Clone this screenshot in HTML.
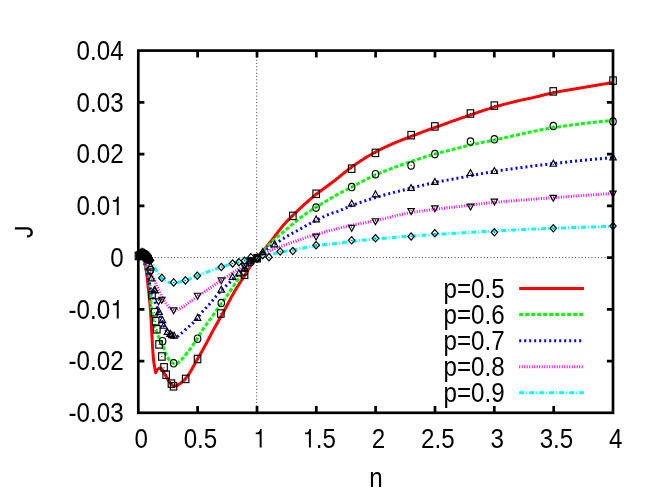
<!DOCTYPE html>
<html><head><meta charset="utf-8"><title>plot</title><style>html,body{margin:0;padding:0;background:#fff}svg{display:block;will-change:transform}text{font-family:"Liberation Sans",sans-serif;font-size:27.0px;fill:#000}</style></head><body>
<svg width="654" height="491" viewBox="0 0 654 491">
<rect width="654" height="491" fill="#fff"/>
<g stroke="#222" stroke-width="0.9" stroke-dasharray="1 2.26" fill="none">
<path d="M138.3 257.6 H613.0"/>
<path d="M256.7 412.8 V50.6"/>
</g>
<path d="M138.5 257.3 L139.7 257.3 L140.9 257.3 L141.8 257.4 L142.5 257.4 L143.1 257.7 L143.6 258.5 L144.0 259.6 L144.3 260.8 L144.6 261.9 L144.8 262.8 L145.0 263.8 L145.2 264.7 L145.4 265.7 L145.6 266.7 L145.8 267.7 L146.0 268.6 L146.1 269.6 L146.3 270.6 L146.4 271.6 L146.6 272.6 L146.7 273.6 L146.8 274.6 L146.9 275.6 L147.1 276.6 L147.2 277.6 L147.3 278.6 L147.4 279.6 L147.5 280.6 L147.6 281.6 L147.7 282.6 L147.8 283.6 L147.9 284.6 L148.0 285.6 L148.1 286.6 L148.2 287.6 L148.3 288.6 L148.5 289.6 L148.6 290.6 L148.7 291.6 L148.8 292.6 L148.9 293.6 L149.0 294.6 L149.1 295.6 L149.2 296.6 L149.3 297.6 L149.4 298.6 L149.5 299.6 L149.6 300.6 L149.7 301.6 L149.8 302.5 L149.9 303.5 L150.0 304.5 L150.1 305.5 L150.1 306.5 L150.2 307.5 L150.3 308.5 L150.4 309.5 L150.5 310.5 L150.5 311.5 L150.6 312.5 L150.7 313.5 L150.7 314.5 L150.8 315.5 L150.9 316.5 L150.9 317.5 L151.0 318.5 L151.1 319.5 L151.1 320.5 L151.2 321.5 L151.2 322.5 L151.3 323.5 L151.3 324.5 L151.4 325.5 L151.4 326.5 L151.5 327.5 L151.5 328.5 L151.6 329.5 L151.7 330.5 L151.7 331.5 L151.8 332.5 L151.8 333.5 L151.9 334.5 L151.9 335.5 L152.0 336.5 L152.1 337.5 L152.1 338.5 L152.2 339.5 L152.2 340.5 L152.3 341.5 L152.3 342.5 L152.4 343.5 L152.4 344.5 L152.5 345.5 L152.5 346.5 L152.6 347.5 L152.7 348.5 L152.7 349.5 L152.8 350.5 L152.9 351.5 L152.9 352.5 L153.0 353.5 L153.1 354.4 L153.1 355.4 L153.2 356.4 L153.3 357.4 L153.4 358.4 L153.5 359.4 L153.6 360.4 L153.8 361.4 L153.9 362.4 L154.0 363.4 L154.2 364.4 L154.3 365.4 L154.5 366.3 L154.7 367.3 L154.8 368.3 L155.0 369.3 L155.2 370.3 L155.4 371.3 L155.5 372.3 L155.6 372.6 L156.4 371.3 L157.1 370.2 L157.8 369.3 L158.5 368.7 L159.2 368.3 L159.9 368.0 L160.6 368.0 L161.2 368.4 L161.9 369.1 L162.5 370.0 L163.1 371.0 L163.7 372.0 L164.2 373.0 L164.8 373.9 L165.3 374.8 L165.8 375.6 L166.3 376.5 L166.8 377.4 L167.2 378.3 L167.7 379.2 L168.2 380.0 L168.7 380.9 L169.3 381.7 L169.9 382.5 L170.5 383.3 L171.2 384.1 L171.9 384.7 L172.7 385.4 L173.6 386.0 L174.5 386.2 L175.5 386.1 L176.5 385.8 L177.4 385.4 L178.3 384.9 L179.1 384.3 L179.9 383.7 L180.7 383.1 L181.5 382.5 L182.2 381.8 L183.0 381.1 L183.7 380.5 L184.5 379.8 L185.1 379.0 L185.8 378.3 L186.4 377.5 L187.0 376.8 L187.6 376.0 L188.1 375.2 L188.7 374.4 L189.2 373.5 L189.8 372.7 L190.3 371.8 L190.8 371.0 L191.3 370.1 L191.8 369.2 L192.3 368.4 L192.8 367.5 L193.3 366.6 L193.8 365.7 L194.3 364.8 L194.8 363.9 L195.2 363.0 L195.7 362.1 L196.2 361.2 L196.7 360.4 L197.2 359.5 L197.7 358.6 L198.2 357.8 L198.7 356.9 L199.2 356.0 L199.7 355.2 L200.2 354.3 L200.7 353.4 L201.2 352.6 L201.7 351.7 L202.2 350.8 L202.7 350.0 L203.2 349.1 L203.7 348.2 L204.2 347.3 L204.6 346.5 L205.1 345.6 L205.6 344.7 L206.1 343.8 L206.6 343.0 L207.0 342.1 L207.5 341.2 L207.9 340.3 L208.4 339.4 L208.9 338.5 L209.3 337.6 L209.8 336.7 L210.3 335.9 L210.7 335.0 L211.2 334.1 L211.6 333.2 L212.1 332.3 L212.6 331.4 L213.0 330.5 L213.5 329.7 L214.0 328.8 L214.5 327.9 L215.0 327.0 L215.5 326.2 L216.0 325.3 L216.5 324.4 L217.0 323.6 L217.5 322.7 L217.9 321.8 L218.4 321.0 L218.9 320.1 L219.4 319.2 L219.9 318.4 L220.4 317.5 L220.9 316.6 L221.4 315.8 L221.9 314.9 L222.4 314.0 L222.9 313.1 L223.4 312.3 L223.8 311.4 L224.3 310.5 L224.8 309.6 L225.3 308.7 L225.7 307.8 L226.2 307.0 L226.7 306.1 L227.1 305.2 L227.6 304.3 L228.1 303.4 L228.5 302.5 L229.0 301.6 L229.4 300.8 L229.9 299.9 L230.4 299.0 L230.9 298.1 L231.3 297.2 L231.8 296.3 L232.3 295.5 L232.8 294.6 L233.3 293.7 L233.7 292.9 L234.2 292.0 L234.7 291.1 L235.2 290.3 L235.8 289.4 L236.3 288.5 L236.8 287.7 L237.3 286.9 L237.9 286.0 L238.4 285.2 L238.9 284.3 L239.5 283.5 L240.0 282.6 L240.6 281.8 L241.1 281.0 L241.7 280.1 L242.2 279.3 L242.8 278.5 L243.3 277.6 L243.9 276.8 L244.4 275.9 L244.9 275.1 L245.4 274.2 L246.0 273.4 L246.5 272.5 L247.0 271.6 L247.5 270.8 L248.0 269.9 L248.5 269.1 L249.1 268.2 L249.6 267.4 L250.2 266.6 L250.7 265.7 L251.3 264.9 L251.9 264.1 L252.5 263.3 L253.1 262.5 L253.7 261.7 L254.3 260.9 L254.9 260.1 L255.5 259.4 L256.2 258.6 L256.8 257.8 L257.4 257.0 L258.1 256.3 L258.7 255.5 L259.4 254.7 L260.0 254.0 L260.7 253.2 L261.4 252.5 L262.1 251.8 L262.7 251.0 L263.4 250.3 L264.1 249.5 L264.7 248.8 L265.4 248.0 L266.1 247.3 L266.7 246.5 L267.4 245.8 L268.0 245.0 L268.6 244.2 L269.2 243.4 L269.8 242.6 L270.5 241.9 L271.1 241.1 L271.7 240.3 L272.3 239.5 L272.9 238.7 L273.5 237.9 L274.1 237.1 L274.7 236.3 L275.3 235.5 L275.9 234.7 L276.5 233.9 L277.1 233.1 L277.7 232.3 L278.3 231.5 L278.9 230.7 L279.6 229.9 L280.2 229.1 L280.8 228.4 L281.4 227.6 L282.1 226.8 L282.7 226.0 L283.4 225.3 L284.0 224.5 L284.7 223.8 L285.4 223.1 L286.0 222.3 L286.7 221.6 L287.4 220.9 L288.1 220.1 L288.8 219.4 L289.5 218.7 L290.2 218.0 L290.9 217.3 L291.6 216.6 L292.3 215.9 L293.0 215.2 L293.7 214.5 L294.5 213.8 L295.2 213.1 L295.9 212.4 L296.6 211.7 L297.3 211.0 L298.1 210.3 L298.8 209.6 L299.5 208.9 L300.3 208.2 L301.0 207.6 L301.7 206.9 L302.5 206.2 L303.2 205.5 L303.9 204.9 L304.7 204.2 L305.4 203.5 L306.2 202.9 L306.9 202.2 L307.7 201.5 L308.4 200.9 L309.2 200.2 L309.9 199.5 L310.7 198.9 L311.4 198.2 L312.2 197.6 L313.0 196.9 L313.7 196.3 L314.5 195.7 L315.3 195.0 L316.0 194.4 L316.8 193.8 L317.6 193.2 L318.4 192.6 L319.2 192.0 L320.0 191.4 L320.8 190.8 L321.6 190.2 L322.4 189.6 L323.2 189.0 L324.0 188.4 L324.9 187.8 L325.7 187.2 L326.5 186.6 L327.3 186.1 L328.1 185.5 L328.9 184.9 L329.7 184.3 L330.5 183.7 L331.3 183.1 L332.1 182.5 L332.9 181.9 L333.7 181.3 L334.5 180.7 L335.3 180.1 L336.1 179.4 L336.9 178.8 L337.6 178.2 L338.4 177.6 L339.2 176.9 L340.0 176.3 L340.8 175.7 L341.5 175.0 L342.3 174.4 L343.1 173.8 L343.8 173.1 L344.6 172.5 L345.4 171.8 L346.2 171.2 L346.9 170.6 L347.7 170.0 L348.5 169.4 L349.3 168.7 L350.1 168.1 L350.9 167.5 L351.7 167.0 L352.5 166.4 L353.3 165.8 L354.2 165.2 L355.0 164.7 L355.8 164.1 L356.6 163.5 L357.5 163.0 L358.3 162.4 L359.1 161.9 L360.0 161.3 L360.8 160.8 L361.6 160.2 L362.5 159.7 L363.3 159.2 L364.2 158.6 L365.0 158.1 L365.9 157.6 L366.7 157.0 L367.6 156.5 L368.5 156.0 L369.3 155.5 L370.2 155.0 L371.1 154.5 L371.9 154.0 L372.8 153.5 L373.7 153.0 L374.5 152.5 L375.4 152.1 L376.3 151.6 L377.2 151.1 L378.0 150.6 L378.9 150.2 L379.8 149.7 L380.7 149.3 L381.6 148.8 L382.5 148.4 L383.4 148.0 L384.3 147.5 L385.2 147.1 L386.1 146.7 L387.0 146.3 L388.0 145.8 L388.9 145.4 L389.8 145.0 L390.7 144.6 L391.6 144.2 L392.5 143.8 L393.4 143.4 L394.4 143.0 L395.3 142.6 L396.2 142.2 L397.1 141.9 L398.1 141.5 L399.0 141.1 L399.9 140.8 L400.8 140.4 L401.8 140.0 L402.7 139.7 L403.6 139.3 L404.6 139.0 L405.5 138.6 L406.4 138.2 L407.4 137.9 L408.3 137.5 L409.3 137.2 L410.2 136.8 L411.1 136.4 L412.1 136.1 L413.0 135.7 L413.9 135.4 L414.8 135.0 L415.8 134.6 L416.7 134.3 L417.6 133.9 L418.6 133.5 L419.5 133.2 L420.4 132.8 L421.4 132.4 L422.3 132.1 L423.2 131.7 L424.2 131.4 L425.1 131.0 L426.0 130.7 L427.0 130.3 L427.9 130.0 L428.8 129.6 L429.8 129.3 L430.7 128.9 L431.7 128.6 L432.6 128.3 L433.6 128.0 L434.5 127.7 L435.5 127.3 L436.4 127.0 L437.4 126.7 L438.3 126.3 L439.2 126.0 L440.2 125.7 L441.1 125.3 L442.1 125.0 L443.0 124.6 L443.9 124.3 L444.9 124.0 L445.8 123.6 L446.8 123.3 L447.7 122.9 L448.6 122.6 L449.6 122.2 L450.5 121.9 L451.5 121.5 L452.4 121.2 L453.3 120.9 L454.3 120.5 L455.2 120.2 L456.2 119.9 L457.1 119.5 L458.0 119.2 L459.0 118.9 L459.9 118.5 L460.9 118.2 L461.8 117.9 L462.8 117.5 L463.7 117.2 L464.7 116.9 L465.6 116.6 L466.5 116.2 L467.5 115.9 L468.4 115.6 L469.4 115.3 L470.3 115.0 L471.3 114.6 L472.2 114.3 L473.2 114.0 L474.1 113.7 L475.1 113.3 L476.0 113.0 L477.0 112.7 L477.9 112.4 L478.9 112.0 L479.8 111.7 L480.7 111.4 L481.7 111.1 L482.6 110.7 L483.6 110.4 L484.5 110.1 L485.5 109.8 L486.4 109.5 L487.4 109.2 L488.3 108.9 L489.3 108.6 L490.2 108.3 L491.2 108.0 L492.2 107.7 L493.1 107.4 L494.1 107.1 L495.0 106.8 L496.0 106.5 L496.9 106.3 L497.9 106.0 L498.9 105.7 L499.8 105.5 L500.8 105.2 L501.8 104.9 L502.7 104.7 L503.7 104.4 L504.7 104.2 L505.6 103.9 L506.6 103.7 L507.6 103.4 L508.5 103.2 L509.5 102.9 L510.5 102.7 L511.5 102.4 L512.4 102.2 L513.4 102.0 L514.4 101.7 L515.3 101.5 L516.3 101.3 L517.3 101.0 L518.3 100.8 L519.2 100.6 L520.2 100.4 L521.2 100.1 L522.2 99.9 L523.1 99.7 L524.1 99.5 L525.1 99.3 L526.1 99.1 L527.1 98.9 L528.0 98.7 L529.0 98.5 L530.0 98.3 L531.0 98.1 L531.9 97.9 L532.9 97.6 L533.9 97.4 L534.9 97.2 L535.8 96.9 L536.8 96.7 L537.8 96.5 L538.8 96.2 L539.7 96.0 L540.7 95.7 L541.7 95.5 L542.6 95.2 L543.6 95.0 L544.6 94.8 L545.6 94.5 L546.5 94.3 L547.5 94.1 L548.5 93.8 L549.4 93.6 L550.4 93.4 L551.4 93.2 L552.4 93.0 L553.3 92.8 L554.3 92.6 L555.3 92.4 L556.3 92.2 L557.3 92.0 L558.2 91.8 L559.2 91.6 L560.2 91.4 L561.2 91.2 L562.2 91.1 L563.2 90.9 L564.2 90.7 L565.1 90.5 L566.1 90.4 L567.1 90.2 L568.1 90.0 L569.1 89.9 L570.1 89.7 L571.1 89.5 L572.0 89.4 L573.0 89.2 L574.0 89.0 L575.0 88.9 L576.0 88.7 L577.0 88.5 L578.0 88.4 L578.9 88.2 L579.9 88.1 L580.9 87.9 L581.9 87.7 L582.9 87.6 L583.9 87.4 L584.9 87.2 L585.9 87.1 L586.8 86.9 L587.8 86.7 L588.8 86.5 L589.8 86.4 L590.8 86.2 L591.8 86.0 L592.8 85.9 L593.7 85.7 L594.7 85.5 L595.7 85.4 L596.7 85.2 L597.7 85.0 L598.7 84.9 L599.7 84.7 L600.6 84.6 L601.6 84.4 L602.6 84.2 L603.6 84.1 L604.6 83.9 L605.6 83.7 L606.6 83.6 L607.5 83.4 L608.5 83.2 L609.5 83.1 L610.5 82.9 L611.5 82.7 L612.5 82.6 L613.0 82.5" fill="none" stroke="#ff0000" stroke-width="3.0" stroke-linejoin="round"/>
<path d="M138.5 257.3 L139.7 257.3 L140.7 257.3 L141.6 257.4 L142.3 257.5 L143.0 258.0 L143.6 258.9 L144.1 260.0 L144.5 261.1 L144.8 262.1 L145.1 263.0 L145.4 263.9 L145.7 264.8 L146.0 265.8 L146.3 266.7 L146.5 267.7 L146.8 268.6 L147.0 269.6 L147.3 270.6 L147.5 271.5 L147.7 272.5 L147.9 273.5 L148.1 274.5 L148.3 275.5 L148.5 276.5 L148.7 277.5 L148.9 278.5 L149.0 279.5 L149.2 280.5 L149.3 281.5 L149.5 282.5 L149.6 283.6 L149.7 284.6 L149.9 285.6 L150.0 286.6 L150.1 287.6 L150.2 288.6 L150.3 289.6 L150.4 290.6 L150.4 291.6 L150.5 292.6 L150.6 293.6 L150.6 294.6 L150.7 295.6 L150.7 296.6 L150.8 297.6 L150.8 298.6 L150.8 299.6 L150.9 300.6 L150.9 301.6 L151.0 302.6 L151.0 303.6 L151.1 304.6 L151.2 305.6 L151.2 306.6 L151.3 307.6 L151.4 308.5 L151.5 309.5 L151.7 310.5 L151.8 311.5 L151.9 312.5 L152.1 313.5 L152.2 314.5 L152.4 315.5 L152.5 316.5 L152.7 317.5 L152.9 318.5 L153.1 319.4 L153.2 320.4 L153.4 321.4 L153.6 322.4 L153.9 323.3 L154.1 324.3 L154.4 325.3 L154.6 326.2 L154.9 327.2 L155.2 328.1 L155.6 329.1 L155.9 330.0 L156.2 331.0 L156.6 331.9 L156.9 332.9 L157.3 333.8 L157.7 334.8 L158.0 335.7 L158.4 336.6 L158.8 337.5 L159.2 338.4 L159.6 339.3 L160.1 340.2 L160.5 341.1 L161.0 342.0 L161.4 342.9 L161.9 343.8 L162.3 344.7 L162.7 345.6 L163.1 346.5 L163.5 347.5 L163.9 348.4 L164.2 349.4 L164.5 350.3 L164.9 351.3 L165.2 352.3 L165.5 353.2 L165.9 354.2 L166.3 355.1 L166.7 355.9 L167.2 356.8 L167.7 357.6 L168.2 358.5 L168.8 359.4 L169.4 360.2 L170.1 361.1 L170.8 361.8 L171.6 362.5 L172.4 363.0 L173.2 363.4 L174.2 363.7 L175.2 363.9 L176.1 364.0 L177.0 363.7 L177.8 363.2 L178.6 362.5 L179.4 361.7 L180.2 360.9 L180.9 360.2 L181.6 359.6 L182.3 358.8 L182.9 358.1 L183.6 357.4 L184.2 356.6 L184.9 355.8 L185.5 355.0 L186.1 354.2 L186.7 353.4 L187.3 352.6 L188.0 351.8 L188.6 351.0 L189.2 350.2 L189.8 349.4 L190.4 348.6 L191.0 347.8 L191.5 347.0 L192.1 346.2 L192.7 345.4 L193.3 344.5 L193.8 343.7 L194.4 342.9 L195.0 342.1 L195.5 341.2 L196.1 340.4 L196.6 339.6 L197.2 338.7 L197.7 337.9 L198.2 337.0 L198.7 336.2 L199.3 335.3 L199.8 334.5 L200.3 333.6 L200.8 332.8 L201.4 331.9 L201.9 331.1 L202.4 330.2 L203.0 329.4 L203.5 328.6 L204.1 327.7 L204.7 326.9 L205.2 326.1 L205.8 325.3 L206.4 324.5 L207.0 323.7 L207.6 322.8 L208.2 322.0 L208.8 321.2 L209.3 320.4 L209.9 319.6 L210.5 318.8 L211.1 318.0 L211.7 317.2 L212.3 316.4 L212.8 315.5 L213.4 314.7 L214.0 313.9 L214.6 313.1 L215.2 312.3 L215.8 311.5 L216.4 310.7 L216.9 309.9 L217.5 309.0 L218.1 308.2 L218.7 307.4 L219.3 306.6 L219.8 305.8 L220.4 305.0 L221.0 304.2 L221.6 303.3 L222.2 302.5 L222.7 301.7 L223.3 300.9 L223.9 300.1 L224.5 299.3 L225.0 298.5 L225.6 297.6 L226.2 296.8 L226.8 296.0 L227.4 295.2 L227.9 294.4 L228.5 293.5 L229.1 292.7 L229.6 291.9 L230.2 291.1 L230.8 290.3 L231.3 289.4 L231.9 288.6 L232.5 287.8 L233.0 287.0 L233.6 286.1 L234.1 285.3 L234.7 284.4 L235.2 283.6 L235.8 282.8 L236.3 281.9 L236.8 281.1 L237.4 280.2 L237.9 279.4 L238.5 278.6 L239.0 277.7 L239.6 276.9 L240.2 276.1 L240.8 275.3 L241.3 274.5 L241.9 273.6 L242.5 272.8 L243.1 272.0 L243.7 271.2 L244.3 270.4 L244.9 269.6 L245.5 268.8 L246.1 268.0 L246.8 267.3 L247.4 266.5 L248.1 265.8 L248.8 265.1 L249.5 264.4 L250.2 263.7 L251.0 263.0 L251.7 262.4 L252.4 261.7 L253.2 261.0 L253.9 260.3 L254.7 259.7 L255.4 259.0 L256.2 258.3 L256.9 257.6 L257.6 256.9 L258.3 256.2 L259.0 255.5 L259.7 254.8 L260.4 254.1 L261.1 253.3 L261.8 252.6 L262.5 251.9 L263.2 251.2 L263.8 250.4 L264.5 249.7 L265.2 248.9 L265.8 248.2 L266.5 247.4 L267.2 246.7 L267.9 246.0 L268.6 245.3 L269.3 244.6 L270.0 243.9 L270.7 243.2 L271.4 242.5 L272.1 241.8 L272.9 241.1 L273.6 240.4 L274.3 239.7 L275.0 239.0 L275.8 238.3 L276.5 237.7 L277.3 237.0 L278.0 236.3 L278.8 235.7 L279.5 235.1 L280.3 234.4 L281.1 233.8 L281.9 233.1 L282.6 232.5 L283.4 231.9 L284.2 231.3 L285.0 230.6 L285.7 230.0 L286.5 229.3 L287.3 228.7 L288.0 228.0 L288.8 227.4 L289.5 226.7 L290.3 226.1 L291.0 225.4 L291.8 224.8 L292.6 224.1 L293.3 223.5 L294.1 222.8 L294.9 222.2 L295.7 221.6 L296.4 220.9 L297.2 220.3 L298.0 219.7 L298.8 219.1 L299.6 218.4 L300.3 217.8 L301.1 217.2 L301.9 216.6 L302.7 216.0 L303.5 215.4 L304.3 214.8 L305.1 214.2 L306.0 213.7 L306.8 213.1 L307.6 212.5 L308.4 212.0 L309.3 211.4 L310.1 210.9 L311.0 210.3 L311.8 209.8 L312.7 209.3 L313.5 208.7 L314.4 208.2 L315.2 207.7 L316.1 207.2 L316.9 206.6 L317.8 206.1 L318.6 205.6 L319.5 205.1 L320.3 204.5 L321.2 204.0 L322.0 203.5 L322.9 203.0 L323.7 202.5 L324.6 202.0 L325.5 201.5 L326.3 201.0 L327.2 200.5 L328.1 199.9 L328.9 199.4 L329.8 198.9 L330.6 198.4 L331.5 197.9 L332.4 197.4 L333.2 196.9 L334.1 196.4 L335.0 195.9 L335.8 195.4 L336.7 194.9 L337.6 194.4 L338.4 194.0 L339.3 193.5 L340.2 193.0 L341.1 192.5 L342.0 192.1 L342.9 191.6 L343.7 191.1 L344.6 190.7 L345.5 190.2 L346.4 189.7 L347.3 189.3 L348.2 188.8 L349.1 188.4 L350.0 187.9 L350.8 187.4 L351.7 187.0 L352.6 186.5 L353.5 186.1 L354.4 185.6 L355.3 185.1 L356.2 184.7 L357.1 184.2 L357.9 183.7 L358.8 183.3 L359.7 182.8 L360.6 182.3 L361.5 181.9 L362.4 181.4 L363.3 180.9 L364.1 180.5 L365.0 180.0 L365.9 179.6 L366.8 179.1 L367.7 178.7 L368.6 178.2 L369.5 177.8 L370.4 177.3 L371.3 176.9 L372.2 176.5 L373.1 176.1 L374.0 175.7 L374.9 175.2 L375.8 174.8 L376.8 174.5 L377.7 174.1 L378.6 173.7 L379.5 173.3 L380.4 172.9 L381.4 172.5 L382.3 172.1 L383.2 171.8 L384.1 171.4 L385.1 171.0 L386.0 170.6 L386.9 170.3 L387.9 169.9 L388.8 169.5 L389.7 169.2 L390.7 168.8 L391.6 168.5 L392.5 168.1 L393.5 167.8 L394.4 167.4 L395.3 167.1 L396.3 166.7 L397.2 166.4 L398.2 166.0 L399.1 165.7 L400.1 165.4 L401.0 165.0 L401.9 164.7 L402.9 164.4 L403.8 164.0 L404.8 163.7 L405.7 163.4 L406.7 163.0 L407.6 162.7 L408.6 162.4 L409.5 162.0 L410.4 161.7 L411.4 161.4 L412.3 161.1 L413.3 160.8 L414.2 160.4 L415.2 160.1 L416.1 159.8 L417.1 159.5 L418.0 159.2 L419.0 158.9 L419.9 158.5 L420.9 158.2 L421.8 157.9 L422.8 157.6 L423.7 157.3 L424.7 157.0 L425.7 156.7 L426.6 156.4 L427.6 156.1 L428.5 155.9 L429.5 155.6 L430.4 155.3 L431.4 155.0 L432.4 154.7 L433.3 154.4 L434.3 154.2 L435.2 153.9 L436.2 153.6 L437.2 153.4 L438.1 153.1 L439.1 152.9 L440.1 152.6 L441.0 152.4 L442.0 152.1 L443.0 151.9 L443.9 151.6 L444.9 151.4 L445.9 151.2 L446.9 150.9 L447.8 150.7 L448.8 150.5 L449.8 150.2 L450.8 150.0 L451.7 149.8 L452.7 149.5 L453.7 149.3 L454.6 149.0 L455.6 148.8 L456.6 148.6 L457.6 148.3 L458.5 148.1 L459.5 147.8 L460.5 147.6 L461.4 147.3 L462.4 147.1 L463.4 146.8 L464.3 146.5 L465.3 146.3 L466.3 146.0 L467.2 145.8 L468.2 145.6 L469.2 145.3 L470.1 145.1 L471.1 144.9 L472.1 144.6 L473.1 144.4 L474.0 144.2 L475.0 144.0 L476.0 143.8 L477.0 143.6 L478.0 143.4 L478.9 143.2 L479.9 143.0 L480.9 142.7 L481.9 142.5 L482.8 142.3 L483.8 142.1 L484.8 142.0 L485.8 141.8 L486.8 141.6 L487.8 141.4 L488.7 141.2 L489.7 141.0 L490.7 140.8 L491.7 140.6 L492.7 140.4 L493.6 140.2 L494.6 140.0 L495.6 139.7 L496.6 139.5 L497.5 139.3 L498.5 139.1 L499.5 138.9 L500.5 138.7 L501.5 138.5 L502.4 138.3 L503.4 138.1 L504.4 137.8 L505.4 137.6 L506.3 137.4 L507.3 137.2 L508.3 137.0 L509.3 136.7 L510.3 136.5 L511.2 136.3 L512.2 136.1 L513.2 135.8 L514.2 135.6 L515.1 135.4 L516.1 135.2 L517.1 135.0 L518.1 134.7 L519.0 134.5 L520.0 134.3 L521.0 134.1 L522.0 133.9 L522.9 133.6 L523.9 133.4 L524.9 133.2 L525.9 133.0 L526.9 132.8 L527.8 132.6 L528.8 132.3 L529.8 132.1 L530.8 131.9 L531.7 131.7 L532.7 131.5 L533.7 131.3 L534.7 131.1 L535.7 130.9 L536.6 130.7 L537.6 130.5 L538.6 130.3 L539.6 130.1 L540.6 129.9 L541.5 129.7 L542.5 129.5 L543.5 129.4 L544.5 129.2 L545.5 129.0 L546.5 128.8 L547.4 128.7 L548.4 128.5 L549.4 128.3 L550.4 128.2 L551.4 128.0 L552.4 127.8 L553.3 127.7 L554.3 127.5 L555.3 127.4 L556.3 127.2 L557.3 127.1 L558.3 126.9 L559.3 126.8 L560.3 126.7 L561.2 126.5 L562.2 126.4 L563.2 126.2 L564.2 126.1 L565.2 125.9 L566.2 125.8 L567.2 125.7 L568.2 125.5 L569.1 125.4 L570.1 125.2 L571.1 125.1 L572.1 125.0 L573.1 124.8 L574.1 124.7 L575.1 124.6 L576.1 124.4 L577.1 124.3 L578.1 124.2 L579.1 124.0 L580.0 123.9 L581.0 123.8 L582.0 123.7 L583.0 123.5 L584.0 123.4 L585.0 123.3 L586.0 123.2 L587.0 123.1 L588.0 123.0 L589.0 122.8 L590.0 122.7 L591.0 122.6 L592.0 122.5 L593.0 122.4 L594.0 122.3 L595.0 122.2 L596.0 122.1 L596.9 122.0 L597.9 121.9 L598.9 121.8 L599.9 121.7 L600.9 121.6 L601.9 121.5 L602.9 121.4 L603.9 121.3 L604.9 121.2 L605.9 121.1 L606.9 121.0 L607.9 120.9 L608.9 120.8 L609.9 120.7 L610.9 120.7 L611.9 120.6 L612.9 120.5 L613.0 120.5" fill="none" stroke="#00ff00" stroke-width="3.0" stroke-linejoin="round" stroke-dasharray="4 2"/>
<path d="M138.5 257.3 L139.7 257.3 L140.8 257.3 L141.7 257.4 L142.3 257.5 L142.8 258.1 L143.2 259.1 L143.5 260.3 L143.8 261.5 L144.2 262.5 L144.5 263.4 L144.8 264.3 L145.1 265.3 L145.3 266.2 L145.6 267.2 L145.9 268.2 L146.1 269.1 L146.4 270.1 L146.6 271.1 L146.8 272.0 L147.1 273.0 L147.3 274.0 L147.5 275.0 L147.7 276.0 L147.9 277.0 L148.1 277.9 L148.4 278.9 L148.6 279.9 L148.8 280.9 L149.0 281.9 L149.2 282.9 L149.4 283.8 L149.6 284.8 L149.8 285.8 L150.1 286.8 L150.3 287.8 L150.5 288.7 L150.8 289.7 L151.0 290.7 L151.3 291.6 L151.5 292.6 L151.8 293.6 L152.1 294.5 L152.4 295.5 L152.7 296.4 L153.0 297.3 L153.4 298.3 L153.8 299.2 L154.2 300.1 L154.6 301.0 L155.0 301.9 L155.4 302.9 L155.8 303.8 L156.2 304.7 L156.6 305.6 L156.9 306.6 L157.3 307.5 L157.6 308.4 L157.9 309.4 L158.3 310.3 L158.6 311.3 L158.9 312.2 L159.2 313.2 L159.5 314.1 L159.8 315.1 L160.1 316.0 L160.5 317.0 L160.8 317.9 L161.1 318.9 L161.4 319.8 L161.8 320.8 L162.1 321.7 L162.5 322.6 L162.9 323.5 L163.3 324.5 L163.7 325.4 L164.0 326.4 L164.4 327.3 L164.9 328.3 L165.3 329.2 L165.8 330.1 L166.3 330.9 L166.8 331.7 L167.3 332.5 L167.9 333.2 L168.6 334.0 L169.4 334.7 L170.2 335.4 L171.0 336.0 L171.9 336.5 L172.8 336.9 L173.7 337.2 L174.7 337.5 L175.6 337.5 L176.5 337.2 L177.4 336.6 L178.2 336.0 L179.0 335.2 L179.8 334.5 L180.6 333.8 L181.4 333.2 L182.1 332.6 L182.9 331.9 L183.6 331.3 L184.4 330.6 L185.1 329.9 L185.8 329.3 L186.6 328.6 L187.3 327.9 L188.1 327.2 L188.8 326.6 L189.6 325.9 L190.3 325.2 L191.1 324.6 L191.9 323.9 L192.6 323.3 L193.4 322.6 L194.1 321.9 L194.8 321.2 L195.5 320.5 L196.2 319.8 L196.8 319.0 L197.4 318.2 L198.0 317.4 L198.5 316.6 L199.1 315.8 L199.7 315.0 L200.3 314.2 L201.0 313.4 L201.6 312.6 L202.3 311.9 L202.9 311.1 L203.6 310.4 L204.3 309.6 L205.0 308.9 L205.6 308.2 L206.3 307.5 L207.0 306.7 L207.7 306.0 L208.4 305.3 L209.1 304.6 L209.8 303.8 L210.4 303.1 L211.1 302.3 L211.7 301.5 L212.3 300.7 L213.0 300.0 L213.6 299.2 L214.2 298.4 L214.9 297.6 L215.5 296.9 L216.1 296.1 L216.8 295.3 L217.5 294.6 L218.1 293.9 L218.8 293.1 L219.5 292.4 L220.2 291.7 L220.9 291.0 L221.6 290.3 L222.3 289.6 L223.0 288.9 L223.8 288.2 L224.5 287.5 L225.2 286.8 L225.9 286.1 L226.6 285.4 L227.3 284.7 L228.0 284.0 L228.8 283.3 L229.5 282.6 L230.2 281.9 L230.9 281.2 L231.7 280.5 L232.4 279.8 L233.1 279.1 L233.8 278.4 L234.6 277.8 L235.3 277.1 L236.0 276.4 L236.7 275.7 L237.5 275.0 L238.2 274.3 L238.9 273.6 L239.7 273.0 L240.4 272.3 L241.1 271.6 L241.9 270.9 L242.6 270.3 L243.3 269.6 L244.1 268.9 L244.8 268.2 L245.6 267.6 L246.3 266.9 L247.1 266.2 L247.8 265.6 L248.5 264.9 L249.3 264.2 L250.0 263.6 L250.8 262.9 L251.5 262.2 L252.3 261.6 L253.0 260.9 L253.8 260.3 L254.5 259.6 L255.3 258.9 L256.1 258.3 L256.8 257.6 L257.6 257.0 L258.3 256.3 L259.1 255.7 L259.8 255.0 L260.6 254.4 L261.4 253.7 L262.1 253.1 L262.9 252.5 L263.7 251.8 L264.5 251.2 L265.3 250.6 L266.1 250.0 L266.9 249.4 L267.7 248.8 L268.5 248.2 L269.3 247.6 L270.1 247.1 L271.0 246.5 L271.8 246.0 L272.7 245.5 L273.5 244.9 L274.3 244.4 L275.2 243.9 L276.0 243.3 L276.9 242.8 L277.7 242.2 L278.5 241.7 L279.4 241.1 L280.2 240.6 L281.0 240.0 L281.9 239.5 L282.7 238.9 L283.5 238.4 L284.4 237.8 L285.2 237.3 L286.1 236.8 L287.0 236.3 L287.8 235.8 L288.7 235.3 L289.6 234.8 L290.5 234.3 L291.3 233.9 L292.2 233.4 L293.1 232.9 L294.0 232.5 L294.9 232.0 L295.7 231.5 L296.6 231.0 L297.5 230.5 L298.4 230.0 L299.2 229.5 L300.1 229.1 L301.0 228.6 L301.8 228.1 L302.7 227.6 L303.6 227.1 L304.5 226.6 L305.3 226.1 L306.2 225.7 L307.1 225.2 L308.0 224.7 L308.9 224.2 L309.7 223.7 L310.6 223.3 L311.5 222.8 L312.4 222.3 L313.3 221.9 L314.2 221.4 L315.0 220.9 L315.9 220.5 L316.8 220.0 L317.7 219.6 L318.6 219.1 L319.5 218.7 L320.4 218.2 L321.3 217.8 L322.2 217.3 L323.1 216.9 L324.0 216.5 L324.9 216.0 L325.8 215.6 L326.7 215.2 L327.7 214.8 L328.6 214.4 L329.5 214.1 L330.4 213.7 L331.4 213.4 L332.3 213.1 L333.3 212.8 L334.3 212.6 L335.2 212.3 L336.2 211.9 L337.1 211.6 L338.0 211.3 L339.0 210.9 L339.9 210.5 L340.8 210.1 L341.7 209.7 L342.7 209.4 L343.6 209.0 L344.5 208.6 L345.4 208.2 L346.3 207.8 L347.3 207.4 L348.2 207.0 L349.1 206.6 L350.0 206.2 L351.0 205.9 L351.9 205.5 L352.8 205.2 L353.8 204.8 L354.7 204.5 L355.7 204.1 L356.6 203.8 L357.5 203.5 L358.5 203.1 L359.4 202.8 L360.4 202.5 L361.3 202.1 L362.3 201.8 L363.2 201.5 L364.1 201.1 L365.1 200.8 L366.0 200.5 L367.0 200.2 L367.9 199.9 L368.9 199.6 L369.8 199.3 L370.8 199.0 L371.8 198.7 L372.7 198.4 L373.7 198.1 L374.6 197.8 L375.6 197.5 L376.5 197.2 L377.5 196.9 L378.4 196.6 L379.4 196.4 L380.4 196.1 L381.3 195.8 L382.3 195.5 L383.3 195.3 L384.2 195.0 L385.2 194.7 L386.1 194.5 L387.1 194.2 L388.1 193.9 L389.0 193.7 L390.0 193.4 L391.0 193.2 L391.9 192.9 L392.9 192.7 L393.9 192.4 L394.9 192.2 L395.8 191.9 L396.8 191.7 L397.8 191.4 L398.7 191.2 L399.7 190.9 L400.7 190.7 L401.6 190.4 L402.6 190.2 L403.6 190.0 L404.6 189.7 L405.5 189.5 L406.5 189.2 L407.5 189.0 L408.4 188.8 L409.4 188.5 L410.4 188.3 L411.4 188.0 L412.3 187.8 L413.3 187.6 L414.3 187.3 L415.2 187.1 L416.2 186.8 L417.2 186.6 L418.1 186.4 L419.1 186.1 L420.1 185.9 L421.1 185.6 L422.0 185.4 L423.0 185.2 L424.0 184.9 L425.0 184.7 L425.9 184.5 L426.9 184.3 L427.9 184.0 L428.9 183.8 L429.8 183.6 L430.8 183.4 L431.8 183.2 L432.8 183.0 L433.7 182.7 L434.7 182.5 L435.7 182.3 L436.7 182.1 L437.6 181.9 L438.6 181.7 L439.6 181.6 L440.6 181.4 L441.6 181.2 L442.6 181.0 L443.5 180.8 L444.5 180.6 L445.5 180.5 L446.5 180.3 L447.5 180.1 L448.5 179.9 L449.4 179.8 L450.4 179.6 L451.4 179.4 L452.4 179.2 L453.4 179.0 L454.4 178.9 L455.4 178.7 L456.3 178.5 L457.3 178.3 L458.3 178.1 L459.3 178.0 L460.3 177.8 L461.3 177.6 L462.2 177.4 L463.2 177.2 L464.2 177.0 L465.2 176.8 L466.2 176.6 L467.1 176.4 L468.1 176.2 L469.1 176.1 L470.1 175.9 L471.1 175.7 L472.1 175.5 L473.0 175.3 L474.0 175.1 L475.0 174.9 L476.0 174.7 L477.0 174.5 L477.9 174.3 L478.9 174.1 L479.9 174.0 L480.9 173.8 L481.9 173.6 L482.9 173.4 L483.8 173.2 L484.8 173.0 L485.8 172.9 L486.8 172.7 L487.8 172.5 L488.8 172.3 L489.7 172.2 L490.7 172.0 L491.7 171.8 L492.7 171.7 L493.7 171.5 L494.7 171.4 L495.7 171.2 L496.7 171.0 L497.6 170.9 L498.6 170.7 L499.6 170.6 L500.6 170.4 L501.6 170.3 L502.6 170.1 L503.6 170.0 L504.6 169.9 L505.5 169.7 L506.5 169.6 L507.5 169.4 L508.5 169.3 L509.5 169.1 L510.5 169.0 L511.5 168.9 L512.5 168.7 L513.5 168.6 L514.5 168.4 L515.4 168.3 L516.4 168.2 L517.4 168.0 L518.4 167.9 L519.4 167.8 L520.4 167.6 L521.4 167.5 L522.4 167.4 L523.4 167.2 L524.4 167.1 L525.4 167.0 L526.4 166.9 L527.3 166.7 L528.3 166.6 L529.3 166.5 L530.3 166.4 L531.3 166.2 L532.3 166.1 L533.3 166.0 L534.3 165.9 L535.3 165.7 L536.3 165.6 L537.3 165.5 L538.3 165.4 L539.3 165.2 L540.3 165.1 L541.2 165.0 L542.2 164.9 L543.2 164.8 L544.2 164.7 L545.2 164.5 L546.2 164.4 L547.2 164.3 L548.2 164.2 L549.2 164.1 L550.2 164.0 L551.2 163.8 L552.2 163.7 L553.2 163.6 L554.2 163.5 L555.2 163.4 L556.1 163.3 L557.1 163.2 L558.1 163.1 L559.1 162.9 L560.1 162.8 L561.1 162.7 L562.1 162.6 L563.1 162.5 L564.1 162.4 L565.1 162.3 L566.1 162.2 L567.1 162.1 L568.1 162.0 L569.1 161.8 L570.1 161.7 L571.1 161.6 L572.0 161.5 L573.0 161.4 L574.0 161.3 L575.0 161.2 L576.0 161.1 L577.0 161.0 L578.0 160.9 L579.0 160.8 L580.0 160.7 L581.0 160.6 L582.0 160.5 L583.0 160.4 L584.0 160.3 L585.0 160.2 L586.0 160.1 L587.0 160.0 L588.0 159.9 L589.0 159.8 L590.0 159.7 L591.0 159.6 L591.9 159.5 L592.9 159.4 L593.9 159.3 L594.9 159.2 L595.9 159.1 L596.9 159.0 L597.9 158.9 L598.9 158.8 L599.9 158.8 L600.9 158.7 L601.9 158.6 L602.9 158.5 L603.9 158.4 L604.9 158.3 L605.9 158.2 L606.9 158.1 L607.9 158.0 L608.9 158.0 L609.9 157.9 L610.9 157.8 L611.9 157.7 L612.9 157.6 L613.0 157.6" fill="none" stroke="#0000ff" stroke-width="3.0" stroke-linejoin="round" stroke-dasharray="2 3"/>
<path d="M138.5 257.3 L139.7 257.3 L140.7 257.3 L141.6 257.4 L142.3 257.5 L142.9 258.1 L143.3 259.0 L143.7 260.2 L144.2 261.3 L144.6 262.2 L145.1 263.1 L145.6 264.0 L146.1 264.9 L146.5 265.7 L147.0 266.6 L147.5 267.5 L148.0 268.4 L148.5 269.2 L149.0 270.1 L149.5 271.0 L149.9 271.9 L150.4 272.8 L150.9 273.6 L151.4 274.5 L151.8 275.4 L152.3 276.3 L152.8 277.2 L153.2 278.0 L153.7 278.9 L154.1 279.8 L154.6 280.7 L155.0 281.6 L155.4 282.5 L155.8 283.4 L156.3 284.4 L156.6 285.3 L157.0 286.2 L157.4 287.1 L157.8 288.0 L158.2 289.0 L158.6 289.9 L159.1 290.8 L159.5 291.7 L159.9 292.6 L160.3 293.5 L160.8 294.4 L161.2 295.3 L161.6 296.3 L162.1 297.2 L162.5 298.1 L163.0 298.9 L163.5 299.8 L164.0 300.7 L164.5 301.5 L165.1 302.3 L165.7 303.1 L166.3 303.9 L166.9 304.7 L167.6 305.5 L168.2 306.3 L168.9 307.1 L169.7 307.8 L170.4 308.5 L171.2 309.1 L172.0 309.6 L172.8 310.1 L173.8 310.5 L174.7 310.6 L175.6 310.4 L176.6 310.1 L177.5 309.6 L178.5 309.2 L179.4 308.7 L180.3 308.2 L181.2 307.7 L182.0 307.2 L182.9 306.8 L183.7 306.2 L184.6 305.7 L185.4 305.1 L186.2 304.6 L187.1 304.0 L187.9 303.4 L188.7 302.8 L189.5 302.2 L190.3 301.6 L191.1 301.0 L191.9 300.4 L192.8 299.9 L193.6 299.3 L194.4 298.6 L195.1 298.0 L195.9 297.4 L196.7 296.8 L197.6 296.3 L198.4 295.7 L199.2 295.1 L200.1 294.6 L200.9 294.1 L201.8 293.5 L202.6 293.0 L203.4 292.4 L204.3 291.9 L205.1 291.3 L205.9 290.8 L206.8 290.2 L207.6 289.7 L208.4 289.1 L209.2 288.5 L210.1 288.0 L210.9 287.4 L211.7 286.8 L212.5 286.3 L213.4 285.7 L214.2 285.1 L215.0 284.6 L215.8 284.0 L216.7 283.4 L217.5 282.9 L218.3 282.3 L219.1 281.7 L220.0 281.2 L220.8 280.6 L221.6 280.1 L222.5 279.5 L223.3 279.0 L224.1 278.4 L225.0 277.9 L225.8 277.3 L226.6 276.8 L227.5 276.2 L228.3 275.7 L229.1 275.1 L230.0 274.6 L230.8 274.0 L231.6 273.4 L232.5 272.9 L233.3 272.3 L234.1 271.8 L235.0 271.2 L235.8 270.7 L236.7 270.1 L237.5 269.6 L238.3 269.1 L239.2 268.5 L240.0 268.0 L240.8 267.4 L241.7 266.9 L242.5 266.3 L243.4 265.8 L244.2 265.3 L245.1 264.7 L245.9 264.2 L246.8 263.7 L247.6 263.1 L248.4 262.6 L249.3 262.1 L250.1 261.5 L251.0 261.0 L251.9 260.5 L252.7 260.0 L253.6 259.5 L254.4 258.9 L255.3 258.4 L256.1 257.9 L257.0 257.4 L257.9 256.9 L258.7 256.4 L259.6 255.9 L260.4 255.4 L261.3 254.9 L262.2 254.4 L263.1 253.9 L263.9 253.4 L264.8 252.9 L265.7 252.5 L266.6 252.0 L267.5 251.6 L268.4 251.2 L269.3 250.8 L270.2 250.4 L271.2 250.0 L272.1 249.7 L273.0 249.3 L274.0 248.9 L274.9 248.6 L275.8 248.2 L276.8 247.9 L277.7 247.5 L278.6 247.2 L279.6 246.9 L280.5 246.5 L281.5 246.2 L282.4 245.9 L283.4 245.6 L284.3 245.2 L285.3 244.9 L286.2 244.6 L287.2 244.3 L288.1 243.9 L289.0 243.6 L290.0 243.3 L290.9 242.9 L291.9 242.6 L292.8 242.3 L293.8 241.9 L294.7 241.6 L295.6 241.3 L296.6 240.9 L297.5 240.6 L298.5 240.2 L299.4 239.9 L300.4 239.6 L301.3 239.2 L302.2 238.9 L303.2 238.6 L304.1 238.3 L305.1 237.9 L306.0 237.6 L307.0 237.3 L307.9 236.9 L308.9 236.6 L309.8 236.3 L310.8 236.0 L311.7 235.7 L312.7 235.4 L313.6 235.1 L314.6 234.8 L315.5 234.5 L316.5 234.2 L317.4 233.9 L318.4 233.6 L319.4 233.4 L320.3 233.1 L321.3 232.8 L322.2 232.6 L323.2 232.3 L324.2 232.1 L325.2 231.8 L326.1 231.6 L327.1 231.3 L328.1 231.1 L329.0 230.8 L330.0 230.6 L331.0 230.4 L331.9 230.1 L332.9 229.9 L333.9 229.6 L334.9 229.4 L335.8 229.1 L336.8 228.9 L337.8 228.6 L338.7 228.4 L339.7 228.1 L340.7 227.9 L341.6 227.6 L342.6 227.4 L343.6 227.2 L344.5 226.9 L345.5 226.7 L346.5 226.4 L347.5 226.2 L348.4 225.9 L349.4 225.7 L350.4 225.5 L351.4 225.3 L352.3 225.1 L353.3 224.9 L354.3 224.7 L355.3 224.5 L356.2 224.3 L357.2 224.1 L358.2 223.9 L359.2 223.7 L360.2 223.5 L361.2 223.3 L362.1 223.1 L363.1 223.0 L364.1 222.8 L365.1 222.6 L366.1 222.4 L367.1 222.2 L368.0 222.0 L369.0 221.9 L370.0 221.7 L371.0 221.5 L372.0 221.3 L373.0 221.1 L373.9 220.9 L374.9 220.7 L375.9 220.5 L376.9 220.3 L377.9 220.1 L378.8 219.9 L379.8 219.7 L380.8 219.4 L381.8 219.2 L382.7 219.0 L383.7 218.8 L384.7 218.5 L385.7 218.3 L386.6 218.1 L387.6 217.8 L388.6 217.6 L389.5 217.3 L390.5 217.1 L391.5 216.9 L392.5 216.6 L393.4 216.4 L394.4 216.1 L395.4 215.9 L396.4 215.7 L397.3 215.4 L398.3 215.2 L399.3 215.0 L400.2 214.8 L401.2 214.5 L402.2 214.3 L403.2 214.1 L404.2 213.9 L405.1 213.7 L406.1 213.5 L407.1 213.3 L408.1 213.1 L409.1 213.0 L410.0 212.8 L411.0 212.6 L412.0 212.5 L413.0 212.3 L414.0 212.1 L415.0 212.0 L415.9 211.8 L416.9 211.7 L417.9 211.6 L418.9 211.4 L419.9 211.3 L420.9 211.2 L421.9 211.0 L422.9 210.9 L423.9 210.8 L424.9 210.6 L425.9 210.5 L426.9 210.4 L427.9 210.3 L428.8 210.2 L429.8 210.0 L430.8 209.9 L431.8 209.8 L432.8 209.7 L433.8 209.5 L434.8 209.4 L435.8 209.3 L436.8 209.2 L437.8 209.0 L438.8 208.9 L439.8 208.8 L440.8 208.7 L441.7 208.5 L442.7 208.4 L443.7 208.3 L444.7 208.2 L445.7 208.1 L446.7 207.9 L447.7 207.8 L448.7 207.7 L449.7 207.6 L450.7 207.5 L451.7 207.3 L452.7 207.2 L453.7 207.1 L454.7 207.0 L455.6 206.9 L456.6 206.8 L457.6 206.6 L458.6 206.5 L459.6 206.4 L460.6 206.3 L461.6 206.2 L462.6 206.0 L463.6 205.9 L464.6 205.8 L465.6 205.7 L466.6 205.6 L467.6 205.4 L468.6 205.3 L469.6 205.2 L470.5 205.1 L471.5 205.0 L472.5 204.8 L473.5 204.7 L474.5 204.6 L475.5 204.5 L476.5 204.4 L477.5 204.2 L478.5 204.1 L479.5 204.0 L480.5 203.9 L481.5 203.8 L482.5 203.7 L483.5 203.6 L484.4 203.4 L485.4 203.3 L486.4 203.2 L487.4 203.1 L488.4 203.0 L489.4 202.9 L490.4 202.8 L491.4 202.7 L492.4 202.6 L493.4 202.5 L494.4 202.4 L495.4 202.3 L496.4 202.2 L497.4 202.1 L498.4 202.0 L499.4 201.9 L500.4 201.8 L501.4 201.8 L502.4 201.7 L503.4 201.6 L504.3 201.5 L505.3 201.4 L506.3 201.3 L507.3 201.2 L508.3 201.1 L509.3 201.1 L510.3 201.0 L511.3 200.9 L512.3 200.8 L513.3 200.7 L514.3 200.7 L515.3 200.6 L516.3 200.5 L517.3 200.4 L518.3 200.3 L519.3 200.3 L520.3 200.2 L521.3 200.1 L522.3 200.0 L523.3 199.9 L524.3 199.9 L525.3 199.8 L526.3 199.7 L527.3 199.6 L528.3 199.6 L529.3 199.5 L530.3 199.4 L531.3 199.3 L532.3 199.3 L533.3 199.2 L534.3 199.1 L535.3 199.0 L536.2 199.0 L537.2 198.9 L538.2 198.8 L539.2 198.7 L540.2 198.7 L541.2 198.6 L542.2 198.5 L543.2 198.5 L544.2 198.4 L545.2 198.3 L546.2 198.2 L547.2 198.2 L548.2 198.1 L549.2 198.0 L550.2 197.9 L551.2 197.9 L552.2 197.8 L553.2 197.7 L554.2 197.6 L555.2 197.6 L556.2 197.5 L557.2 197.4 L558.2 197.3 L559.2 197.3 L560.2 197.2 L561.2 197.1 L562.2 197.0 L563.2 197.0 L564.2 196.9 L565.2 196.8 L566.2 196.7 L567.2 196.7 L568.2 196.6 L569.2 196.5 L570.2 196.4 L571.2 196.4 L572.2 196.3 L573.1 196.2 L574.1 196.1 L575.1 196.1 L576.1 196.0 L577.1 195.9 L578.1 195.9 L579.1 195.8 L580.1 195.7 L581.1 195.6 L582.1 195.6 L583.1 195.5 L584.1 195.4 L585.1 195.4 L586.1 195.3 L587.1 195.2 L588.1 195.1 L589.1 195.1 L590.1 195.0 L591.1 194.9 L592.1 194.9 L593.1 194.8 L594.1 194.7 L595.1 194.6 L596.1 194.6 L597.1 194.5 L598.1 194.4 L599.1 194.4 L600.1 194.3 L601.1 194.2 L602.1 194.2 L603.1 194.1 L604.1 194.0 L605.1 193.9 L606.1 193.9 L607.1 193.8 L608.1 193.7 L609.1 193.7 L610.1 193.6 L611.1 193.5 L612.1 193.5 L613.0 193.4" fill="none" stroke="#ff00ff" stroke-width="3.0" stroke-linejoin="round" stroke-dasharray="1 1.5"/>
<path d="M138.5 257.3 L139.5 257.3 L140.5 257.3 L141.5 257.4 L142.5 257.5 L143.4 257.7 L144.4 258.1 L145.3 258.6 L146.2 259.1 L147.0 259.6 L147.9 260.1 L148.7 260.7 L149.5 261.4 L150.3 262.0 L151.0 262.7 L151.7 263.4 L152.4 264.2 L153.0 264.9 L153.6 265.7 L154.1 266.6 L154.6 267.4 L155.1 268.3 L155.6 269.2 L156.1 270.1 L156.6 270.9 L157.1 271.8 L157.6 272.7 L158.1 273.6 L158.6 274.4 L159.2 275.2 L159.8 276.0 L160.4 276.8 L161.1 277.5 L161.9 278.3 L162.6 279.0 L163.4 279.7 L164.3 280.3 L165.1 280.8 L165.9 281.3 L166.8 281.6 L167.7 281.9 L168.7 282.2 L169.7 282.5 L170.7 282.7 L171.7 282.9 L172.7 283.0 L173.7 283.0 L174.7 283.0 L175.7 282.8 L176.6 282.7 L177.6 282.5 L178.6 282.3 L179.6 282.0 L180.6 281.8 L181.6 281.5 L182.5 281.3 L183.5 281.0 L184.4 280.7 L185.4 280.4 L186.3 280.1 L187.3 279.7 L188.2 279.4 L189.1 279.0 L190.1 278.7 L191.0 278.3 L191.9 277.9 L192.8 277.5 L193.8 277.1 L194.7 276.7 L195.6 276.4 L196.5 276.0 L197.5 275.6 L198.4 275.3 L199.4 274.9 L200.3 274.6 L201.2 274.2 L202.2 273.8 L203.1 273.5 L204.0 273.1 L205.0 272.8 L205.9 272.4 L206.8 272.1 L207.8 271.7 L208.7 271.4 L209.6 271.0 L210.6 270.7 L211.5 270.3 L212.5 270.0 L213.4 269.7 L214.4 269.3 L215.3 269.0 L216.2 268.7 L217.2 268.3 L218.1 268.0 L219.1 267.7 L220.0 267.4 L221.0 267.1 L221.9 266.8 L222.9 266.5 L223.8 266.2 L224.8 265.9 L225.8 265.6 L226.7 265.3 L227.7 265.1 L228.6 264.8 L229.6 264.5 L230.5 264.2 L231.5 263.9 L232.5 263.7 L233.4 263.4 L234.4 263.1 L235.4 262.8 L236.3 262.6 L237.3 262.3 L238.3 262.0 L239.2 261.8 L240.2 261.5 L241.2 261.3 L242.1 261.0 L243.1 260.8 L244.1 260.5 L245.0 260.3 L246.0 260.0 L247.0 259.8 L247.9 259.5 L248.9 259.3 L249.9 259.0 L250.9 258.8 L251.8 258.6 L252.8 258.3 L253.8 258.1 L254.7 257.9 L255.7 257.6 L256.7 257.4 L257.7 257.2 L258.6 257.0 L259.6 256.8 L260.6 256.6 L261.6 256.4 L262.6 256.2 L263.5 256.0 L264.5 255.8 L265.5 255.6 L266.5 255.4 L267.5 255.2 L268.4 255.0 L269.4 254.8 L270.4 254.6 L271.4 254.4 L272.3 254.1 L273.3 253.9 L274.3 253.6 L275.2 253.4 L276.2 253.1 L277.2 252.9 L278.2 252.7 L279.1 252.5 L280.1 252.2 L281.1 252.0 L282.1 251.8 L283.1 251.6 L284.0 251.4 L285.0 251.3 L286.0 251.1 L287.0 250.9 L288.0 250.7 L289.0 250.6 L290.0 250.4 L290.9 250.3 L291.9 250.1 L292.9 249.9 L293.9 249.8 L294.9 249.6 L295.9 249.4 L296.9 249.3 L297.8 249.1 L298.8 248.9 L299.8 248.7 L300.8 248.6 L301.8 248.4 L302.8 248.2 L303.7 248.0 L304.7 247.8 L305.7 247.6 L306.7 247.4 L307.7 247.2 L308.6 247.0 L309.6 246.8 L310.6 246.6 L311.6 246.4 L312.6 246.2 L313.6 246.0 L314.5 245.9 L315.5 245.7 L316.5 245.6 L317.5 245.5 L318.5 245.3 L319.5 245.2 L320.5 245.1 L321.5 245.0 L322.5 244.9 L323.5 244.8 L324.5 244.7 L325.5 244.6 L326.5 244.5 L327.4 244.4 L328.4 244.3 L329.4 244.2 L330.4 244.1 L331.4 244.0 L332.4 243.9 L333.4 243.8 L334.4 243.7 L335.4 243.6 L336.4 243.5 L337.4 243.3 L338.4 243.2 L339.4 243.1 L340.4 242.9 L341.4 242.8 L342.4 242.7 L343.3 242.5 L344.3 242.4 L345.3 242.2 L346.3 242.1 L347.3 242.0 L348.3 241.8 L349.3 241.7 L350.3 241.6 L351.3 241.5 L352.3 241.3 L353.3 241.2 L354.2 241.1 L355.2 241.0 L356.2 240.9 L357.2 240.8 L358.2 240.7 L359.2 240.6 L360.2 240.5 L361.2 240.4 L362.2 240.3 L363.2 240.2 L364.2 240.1 L365.2 240.0 L366.2 239.9 L367.2 239.8 L368.2 239.7 L369.2 239.6 L370.2 239.5 L371.2 239.4 L372.2 239.3 L373.2 239.2 L374.2 239.1 L375.1 239.0 L376.1 238.9 L377.1 238.9 L378.1 238.8 L379.1 238.7 L380.1 238.6 L381.1 238.5 L382.1 238.4 L383.1 238.3 L384.1 238.2 L385.1 238.2 L386.1 238.1 L387.1 238.0 L388.1 237.9 L389.1 237.8 L390.1 237.7 L391.1 237.7 L392.1 237.6 L393.1 237.5 L394.1 237.4 L395.1 237.3 L396.1 237.2 L397.1 237.2 L398.1 237.1 L399.1 237.0 L400.1 236.9 L401.1 236.9 L402.1 236.8 L403.1 236.7 L404.0 236.6 L405.0 236.6 L406.0 236.5 L407.0 236.4 L408.0 236.3 L409.0 236.3 L410.0 236.2 L411.0 236.1 L412.0 236.0 L413.0 236.0 L414.0 235.9 L415.0 235.8 L416.0 235.7 L417.0 235.7 L418.0 235.6 L419.0 235.5 L420.0 235.5 L421.0 235.4 L422.0 235.3 L423.0 235.3 L424.0 235.2 L425.0 235.1 L426.0 235.1 L427.0 235.0 L428.0 234.9 L429.0 234.9 L430.0 234.8 L431.0 234.8 L432.0 234.7 L433.0 234.6 L434.0 234.6 L435.0 234.5 L436.0 234.4 L437.0 234.4 L438.0 234.3 L439.0 234.2 L440.0 234.2 L441.0 234.1 L442.0 234.1 L443.0 234.0 L444.0 233.9 L445.0 233.9 L446.0 233.8 L447.0 233.8 L447.9 233.7 L448.9 233.6 L449.9 233.6 L450.9 233.5 L451.9 233.5 L452.9 233.4 L453.9 233.3 L454.9 233.3 L455.9 233.2 L456.9 233.2 L457.9 233.1 L458.9 233.0 L459.9 233.0 L460.9 232.9 L461.9 232.9 L462.9 232.8 L463.9 232.7 L464.9 232.7 L465.9 232.6 L466.9 232.6 L467.9 232.5 L468.9 232.4 L469.9 232.4 L470.9 232.3 L471.9 232.3 L472.9 232.2 L473.9 232.2 L474.9 232.1 L475.9 232.0 L476.9 232.0 L477.9 231.9 L478.9 231.9 L479.9 231.8 L480.9 231.7 L481.9 231.7 L482.9 231.6 L483.9 231.6 L484.9 231.5 L485.9 231.5 L486.9 231.4 L487.9 231.3 L488.9 231.3 L489.9 231.2 L490.9 231.2 L491.9 231.1 L492.9 231.1 L493.9 231.0 L494.9 231.0 L495.9 230.9 L496.9 230.9 L497.9 230.8 L498.9 230.8 L499.9 230.7 L500.9 230.7 L501.9 230.6 L502.9 230.6 L503.9 230.5 L504.9 230.5 L505.9 230.4 L506.9 230.4 L507.9 230.3 L508.9 230.3 L509.9 230.2 L510.9 230.2 L511.8 230.1 L512.8 230.1 L513.8 230.0 L514.8 230.0 L515.8 229.9 L516.8 229.9 L517.8 229.8 L518.8 229.8 L519.8 229.7 L520.8 229.7 L521.8 229.6 L522.8 229.6 L523.8 229.6 L524.8 229.5 L525.8 229.5 L526.8 229.4 L527.8 229.4 L528.8 229.3 L529.8 229.3 L530.8 229.2 L531.8 229.2 L532.8 229.1 L533.8 229.1 L534.8 229.1 L535.8 229.0 L536.8 229.0 L537.8 228.9 L538.8 228.9 L539.8 228.8 L540.8 228.8 L541.8 228.8 L542.8 228.7 L543.8 228.7 L544.8 228.6 L545.8 228.6 L546.8 228.6 L547.8 228.5 L548.8 228.5 L549.8 228.4 L550.8 228.4 L551.8 228.4 L552.8 228.3 L553.8 228.3 L554.8 228.2 L555.8 228.2 L556.8 228.2 L557.8 228.1 L558.8 228.1 L559.8 228.1 L560.8 228.0 L561.8 228.0 L562.8 227.9 L563.8 227.9 L564.8 227.9 L565.8 227.8 L566.8 227.8 L567.8 227.8 L568.8 227.7 L569.8 227.7 L570.8 227.6 L571.8 227.6 L572.8 227.6 L573.8 227.5 L574.8 227.5 L575.8 227.5 L576.8 227.4 L577.8 227.4 L578.8 227.4 L579.8 227.3 L580.8 227.3 L581.8 227.3 L582.8 227.2 L583.8 227.2 L584.8 227.2 L585.8 227.1 L586.8 227.1 L587.8 227.1 L588.8 227.0 L589.8 227.0 L590.8 227.0 L591.8 226.9 L592.8 226.9 L593.8 226.9 L594.8 226.8 L595.8 226.8 L596.8 226.8 L597.8 226.7 L598.8 226.7 L599.8 226.7 L600.8 226.7 L601.8 226.6 L602.8 226.6 L603.8 226.6 L604.8 226.5 L605.8 226.5 L606.8 226.5 L607.8 226.4 L608.8 226.4 L609.8 226.4 L610.8 226.4 L611.8 226.3 L612.8 226.3 L613.0 226.3" fill="none" stroke="#00ffff" stroke-width="3.0" stroke-linejoin="round" stroke-dasharray="5 2 1 2"/>
<g fill="none" stroke="#000" stroke-width="1.15">
<rect x="135.2" y="252.3" width="6.5" height="7.4"/>
<circle cx="138.5" cy="256.0" r="0.5" fill="#000" stroke="none"/>
<rect x="136.4" y="251.8" width="6.5" height="7.4"/>
<circle cx="139.7" cy="255.5" r="0.5" fill="#000" stroke="none"/>
<rect x="137.7" y="251.3" width="6.5" height="7.4"/>
<circle cx="140.9" cy="255.0" r="0.5" fill="#000" stroke="none"/>
<rect x="138.8" y="250.8" width="6.5" height="7.4"/>
<circle cx="142.1" cy="254.5" r="0.5" fill="#000" stroke="none"/>
<rect x="139.9" y="250.8" width="6.5" height="7.4"/>
<circle cx="143.2" cy="254.5" r="0.5" fill="#000" stroke="none"/>
<rect x="141.2" y="251.3" width="6.5" height="7.4"/>
<circle cx="144.4" cy="255.0" r="0.5" fill="#000" stroke="none"/>
<rect x="142.3" y="252.3" width="6.5" height="7.4"/>
<circle cx="145.6" cy="256.0" r="0.5" fill="#000" stroke="none"/>
<rect x="143.6" y="253.8" width="6.5" height="7.4"/>
<circle cx="146.8" cy="257.5" r="0.5" fill="#000" stroke="none"/>
<rect x="144.8" y="255.3" width="6.5" height="7.4"/>
<circle cx="148.0" cy="259.0" r="0.5" fill="#000" stroke="none"/>
<rect x="148.8" y="291.3" width="6.5" height="7.4"/>
<circle cx="152.1" cy="295.0" r="0.5" fill="#000" stroke="none"/>
<rect x="151.2" y="308.6" width="6.5" height="7.4"/>
<circle cx="154.4" cy="312.3" r="0.5" fill="#000" stroke="none"/>
<rect x="152.4" y="317.5" width="6.5" height="7.4"/>
<circle cx="155.7" cy="321.2" r="0.5" fill="#000" stroke="none"/>
<rect x="153.6" y="325.6" width="6.5" height="7.4"/>
<circle cx="156.8" cy="329.3" r="0.5" fill="#000" stroke="none"/>
<rect x="155.8" y="340.7" width="6.5" height="7.4"/>
<circle cx="159.1" cy="344.4" r="0.5" fill="#000" stroke="none"/>
<rect x="158.6" y="352.8" width="6.5" height="7.4"/>
<circle cx="161.8" cy="356.5" r="0.5" fill="#000" stroke="none"/>
<rect x="160.8" y="363.6" width="6.5" height="7.4"/>
<circle cx="164.0" cy="367.3" r="0.5" fill="#000" stroke="none"/>
<rect x="162.9" y="371.0" width="6.5" height="7.4"/>
<circle cx="166.2" cy="374.7" r="0.5" fill="#000" stroke="none"/>
<rect x="168.2" y="379.9" width="6.5" height="7.4"/>
<circle cx="171.4" cy="383.6" r="0.5" fill="#000" stroke="none"/>
<rect x="170.3" y="382.6" width="6.5" height="7.4"/>
<circle cx="173.6" cy="386.3" r="0.5" fill="#000" stroke="none"/>
<rect x="182.4" y="375.2" width="6.5" height="7.4"/>
<circle cx="185.7" cy="378.9" r="0.5" fill="#000" stroke="none"/>
<rect x="194.3" y="355.3" width="6.5" height="7.4"/>
<circle cx="197.6" cy="359.0" r="0.5" fill="#000" stroke="none"/>
<rect x="217.6" y="309.8" width="6.5" height="7.4"/>
<circle cx="220.8" cy="313.5" r="0.5" fill="#000" stroke="none"/>
<rect x="241.3" y="271.1" width="6.5" height="7.4"/>
<circle cx="244.6" cy="274.8" r="0.5" fill="#000" stroke="none"/>
<rect x="253.9" y="254.5" width="6.5" height="7.4"/>
<circle cx="257.2" cy="258.2" r="0.5" fill="#000" stroke="none"/>
<rect x="289.6" y="212.2" width="6.5" height="7.4"/>
<circle cx="292.8" cy="215.9" r="0.5" fill="#000" stroke="none"/>
<rect x="312.9" y="190.1" width="6.5" height="7.4"/>
<circle cx="316.1" cy="193.8" r="0.5" fill="#000" stroke="none"/>
<rect x="348.4" y="165.0" width="6.5" height="7.4"/>
<circle cx="351.7" cy="168.7" r="0.5" fill="#000" stroke="none"/>
<rect x="372.2" y="149.2" width="6.5" height="7.4"/>
<circle cx="375.5" cy="152.9" r="0.5" fill="#000" stroke="none"/>
<rect x="407.9" y="131.5" width="6.5" height="7.4"/>
<circle cx="411.1" cy="135.2" r="0.5" fill="#000" stroke="none"/>
<rect x="431.6" y="122.7" width="6.5" height="7.4"/>
<circle cx="434.9" cy="126.4" r="0.5" fill="#000" stroke="none"/>
<rect x="467.2" y="109.8" width="6.5" height="7.4"/>
<circle cx="470.5" cy="113.5" r="0.5" fill="#000" stroke="none"/>
<rect x="491.1" y="101.9" width="6.5" height="7.4"/>
<circle cx="494.4" cy="105.6" r="0.5" fill="#000" stroke="none"/>
<rect x="550.0" y="87.7" width="6.5" height="7.4"/>
<circle cx="553.3" cy="91.4" r="0.5" fill="#000" stroke="none"/>
<rect x="609.8" y="76.9" width="6.5" height="7.4"/>
<circle cx="613.0" cy="80.6" r="0.5" fill="#000" stroke="none"/>
<ellipse cx="139.7" cy="255.0" rx="3.25" ry="3.70"/>
<circle cx="139.7" cy="255.0" r="0.5" fill="#000" stroke="none"/>
<ellipse cx="140.9" cy="254.0" rx="3.25" ry="3.70"/>
<circle cx="140.9" cy="254.0" r="0.5" fill="#000" stroke="none"/>
<ellipse cx="142.1" cy="253.5" rx="3.25" ry="3.70"/>
<circle cx="142.1" cy="253.5" r="0.5" fill="#000" stroke="none"/>
<ellipse cx="143.2" cy="253.5" rx="3.25" ry="3.70"/>
<circle cx="143.2" cy="253.5" r="0.5" fill="#000" stroke="none"/>
<ellipse cx="144.4" cy="254.0" rx="3.25" ry="3.70"/>
<circle cx="144.4" cy="254.0" r="0.5" fill="#000" stroke="none"/>
<ellipse cx="145.6" cy="255.0" rx="3.25" ry="3.70"/>
<circle cx="145.6" cy="255.0" r="0.5" fill="#000" stroke="none"/>
<ellipse cx="146.8" cy="256.0" rx="3.25" ry="3.70"/>
<circle cx="146.8" cy="256.0" r="0.5" fill="#000" stroke="none"/>
<ellipse cx="148.0" cy="258.0" rx="3.25" ry="3.70"/>
<circle cx="148.0" cy="258.0" r="0.5" fill="#000" stroke="none"/>
<ellipse cx="149.2" cy="260.0" rx="3.25" ry="3.70"/>
<circle cx="149.2" cy="260.0" r="0.5" fill="#000" stroke="none"/>
<ellipse cx="150.5" cy="270.0" rx="3.25" ry="3.70"/>
<circle cx="150.5" cy="270.0" r="0.5" fill="#000" stroke="none"/>
<ellipse cx="162.6" cy="341.2" rx="3.25" ry="3.70"/>
<circle cx="162.6" cy="341.2" r="0.5" fill="#000" stroke="none"/>
<ellipse cx="173.6" cy="363.3" rx="3.25" ry="3.70"/>
<circle cx="173.6" cy="363.3" r="0.5" fill="#000" stroke="none"/>
<ellipse cx="197.6" cy="338.7" rx="3.25" ry="3.70"/>
<circle cx="197.6" cy="338.7" r="0.5" fill="#000" stroke="none"/>
<ellipse cx="221.3" cy="303.0" rx="3.25" ry="3.70"/>
<circle cx="221.3" cy="303.0" r="0.5" fill="#000" stroke="none"/>
<ellipse cx="244.6" cy="271.5" rx="3.25" ry="3.70"/>
<circle cx="244.6" cy="271.5" r="0.5" fill="#000" stroke="none"/>
<ellipse cx="316.1" cy="207.6" rx="3.25" ry="3.70"/>
<circle cx="316.1" cy="207.6" r="0.5" fill="#000" stroke="none"/>
<ellipse cx="351.7" cy="187.0" rx="3.25" ry="3.70"/>
<circle cx="351.7" cy="187.0" r="0.5" fill="#000" stroke="none"/>
<ellipse cx="375.5" cy="174.2" rx="3.25" ry="3.70"/>
<circle cx="375.5" cy="174.2" r="0.5" fill="#000" stroke="none"/>
<ellipse cx="411.1" cy="165.4" rx="3.25" ry="3.70"/>
<circle cx="411.1" cy="165.4" r="0.5" fill="#000" stroke="none"/>
<ellipse cx="434.9" cy="154.1" rx="3.25" ry="3.70"/>
<circle cx="434.9" cy="154.1" r="0.5" fill="#000" stroke="none"/>
<ellipse cx="470.5" cy="141.5" rx="3.25" ry="3.70"/>
<circle cx="470.5" cy="141.5" r="0.5" fill="#000" stroke="none"/>
<ellipse cx="494.4" cy="139.3" rx="3.25" ry="3.70"/>
<circle cx="494.4" cy="139.3" r="0.5" fill="#000" stroke="none"/>
<ellipse cx="553.3" cy="126.0" rx="3.25" ry="3.70"/>
<circle cx="553.3" cy="126.0" r="0.5" fill="#000" stroke="none"/>
<ellipse cx="613.0" cy="121.5" rx="3.25" ry="3.70"/>
<circle cx="613.0" cy="121.5" r="0.5" fill="#000" stroke="none"/>
<ellipse cx="257.2" cy="258.0" rx="3.25" ry="3.70"/>
<circle cx="257.2" cy="258.0" r="0.5" fill="#000" stroke="none"/>
<ellipse cx="250.6" cy="262.0" rx="3.25" ry="3.70"/>
<circle cx="250.6" cy="262.0" r="0.5" fill="#000" stroke="none"/>
<path d="M139.7 250.4 L136.4 256.4 L142.9 256.4 Z"/>
<circle cx="139.7" cy="254.5" r="0.5" fill="#000" stroke="none"/>
<path d="M140.9 248.9 L137.7 254.8 L144.2 254.8 Z"/>
<circle cx="140.9" cy="253.0" r="0.5" fill="#000" stroke="none"/>
<path d="M142.1 248.4 L138.8 254.3 L145.3 254.3 Z"/>
<circle cx="142.1" cy="252.5" r="0.5" fill="#000" stroke="none"/>
<path d="M143.2 248.9 L139.9 254.8 L146.4 254.8 Z"/>
<circle cx="143.2" cy="253.0" r="0.5" fill="#000" stroke="none"/>
<path d="M144.4 249.4 L141.2 255.3 L147.7 255.3 Z"/>
<circle cx="144.4" cy="253.5" r="0.5" fill="#000" stroke="none"/>
<path d="M145.6 250.4 L142.3 256.4 L148.8 256.4 Z"/>
<circle cx="145.6" cy="254.5" r="0.5" fill="#000" stroke="none"/>
<path d="M146.8 251.4 L143.6 257.4 L150.1 257.4 Z"/>
<circle cx="146.8" cy="255.5" r="0.5" fill="#000" stroke="none"/>
<path d="M148.0 252.9 L144.8 258.9 L151.2 258.9 Z"/>
<circle cx="148.0" cy="257.0" r="0.5" fill="#000" stroke="none"/>
<path d="M149.2 254.9 L145.9 260.9 L152.4 260.9 Z"/>
<circle cx="149.2" cy="259.0" r="0.5" fill="#000" stroke="none"/>
<path d="M150.5 262.7 L147.2 268.7 L153.8 268.7 Z"/>
<circle cx="150.5" cy="266.8" r="0.5" fill="#000" stroke="none"/>
<path d="M151.4 274.9 L148.2 280.9 L154.7 280.9 Z"/>
<circle cx="151.4" cy="279.0" r="0.5" fill="#000" stroke="none"/>
<path d="M154.4 286.5 L151.2 292.5 L157.7 292.5 Z"/>
<circle cx="154.4" cy="290.6" r="0.5" fill="#000" stroke="none"/>
<path d="M155.0 287.0 L151.8 293.0 L158.2 293.0 Z"/>
<circle cx="155.0" cy="291.1" r="0.5" fill="#000" stroke="none"/>
<path d="M159.1 308.4 L155.8 314.4 L162.3 314.4 Z"/>
<circle cx="159.1" cy="312.5" r="0.5" fill="#000" stroke="none"/>
<path d="M162.4 316.6 L159.2 322.6 L165.7 322.6 Z"/>
<circle cx="162.4" cy="320.7" r="0.5" fill="#000" stroke="none"/>
<path d="M163.7 322.2 L160.4 328.2 L166.9 328.2 Z"/>
<circle cx="163.7" cy="326.3" r="0.5" fill="#000" stroke="none"/>
<path d="M167.4 328.4 L164.2 334.4 L170.7 334.4 Z"/>
<circle cx="167.4" cy="332.5" r="0.5" fill="#000" stroke="none"/>
<path d="M170.2 330.3 L166.9 336.3 L173.4 336.3 Z"/>
<circle cx="170.2" cy="334.4" r="0.5" fill="#000" stroke="none"/>
<path d="M171.8 331.7 L168.6 337.7 L175.1 337.7 Z"/>
<circle cx="171.8" cy="335.8" r="0.5" fill="#000" stroke="none"/>
<path d="M174.1 332.2 L170.8 338.2 L177.3 338.2 Z"/>
<circle cx="174.1" cy="336.3" r="0.5" fill="#000" stroke="none"/>
<path d="M197.6 314.3 L194.3 320.3 L200.8 320.3 Z"/>
<circle cx="197.6" cy="318.4" r="0.5" fill="#000" stroke="none"/>
<path d="M221.3 286.1 L218.1 292.1 L224.6 292.1 Z"/>
<circle cx="221.3" cy="290.2" r="0.5" fill="#000" stroke="none"/>
<path d="M232.6 273.5 L229.3 279.5 L235.8 279.5 Z"/>
<circle cx="232.6" cy="277.6" r="0.5" fill="#000" stroke="none"/>
<path d="M238.9 269.8 L235.7 275.8 L242.2 275.8 Z"/>
<circle cx="238.9" cy="273.9" r="0.5" fill="#000" stroke="none"/>
<path d="M244.6 264.8 L241.3 270.8 L247.8 270.8 Z"/>
<circle cx="244.6" cy="268.9" r="0.5" fill="#000" stroke="none"/>
<path d="M262.7 248.5 L259.4 254.4 L265.9 254.4 Z"/>
<circle cx="262.7" cy="252.6" r="0.5" fill="#000" stroke="none"/>
<path d="M274.7 240.9 L271.4 246.8 L277.9 246.8 Z"/>
<circle cx="274.7" cy="245.0" r="0.5" fill="#000" stroke="none"/>
<path d="M316.1 215.9 L312.9 221.8 L319.4 221.8 Z"/>
<circle cx="316.1" cy="220.0" r="0.5" fill="#000" stroke="none"/>
<path d="M351.7 200.2 L348.4 206.1 L354.9 206.1 Z"/>
<circle cx="351.7" cy="204.3" r="0.5" fill="#000" stroke="none"/>
<path d="M375.5 190.9 L372.2 196.8 L378.8 196.8 Z"/>
<circle cx="375.5" cy="195.0" r="0.5" fill="#000" stroke="none"/>
<path d="M411.1 184.6 L407.9 190.5 L414.4 190.5 Z"/>
<circle cx="411.1" cy="188.7" r="0.5" fill="#000" stroke="none"/>
<path d="M434.9 178.5 L431.6 184.4 L438.1 184.4 Z"/>
<circle cx="434.9" cy="182.6" r="0.5" fill="#000" stroke="none"/>
<path d="M470.5 169.6 L467.2 175.5 L473.8 175.5 Z"/>
<circle cx="470.5" cy="173.7" r="0.5" fill="#000" stroke="none"/>
<path d="M494.4 167.6 L491.1 173.5 L497.6 173.5 Z"/>
<circle cx="494.4" cy="171.7" r="0.5" fill="#000" stroke="none"/>
<path d="M553.3 160.3 L550.0 166.2 L556.5 166.2 Z"/>
<circle cx="553.3" cy="164.4" r="0.5" fill="#000" stroke="none"/>
<path d="M613.0 153.8 L609.8 159.8 L616.2 159.8 Z"/>
<circle cx="613.0" cy="157.9" r="0.5" fill="#000" stroke="none"/>
<path d="M257.2 254.0 L253.9 260.0 L260.4 260.0 Z"/>
<circle cx="257.2" cy="258.1" r="0.5" fill="#000" stroke="none"/>
<path d="M250.6 257.7 L247.3 263.7 L253.8 263.7 Z"/>
<circle cx="250.6" cy="261.8" r="0.5" fill="#000" stroke="none"/>
<path d="M139.7 259.6 L136.4 253.7 L142.9 253.7 Z"/>
<circle cx="139.7" cy="255.5" r="0.5" fill="#000" stroke="none"/>
<path d="M140.9 258.6 L137.7 252.7 L144.2 252.7 Z"/>
<circle cx="140.9" cy="254.5" r="0.5" fill="#000" stroke="none"/>
<path d="M142.1 258.1 L138.8 252.2 L145.3 252.2 Z"/>
<circle cx="142.1" cy="254.0" r="0.5" fill="#000" stroke="none"/>
<path d="M143.2 258.1 L139.9 252.2 L146.4 252.2 Z"/>
<circle cx="143.2" cy="254.0" r="0.5" fill="#000" stroke="none"/>
<path d="M144.4 258.6 L141.2 252.7 L147.7 252.7 Z"/>
<circle cx="144.4" cy="254.5" r="0.5" fill="#000" stroke="none"/>
<path d="M145.6 259.6 L142.3 253.7 L148.8 253.7 Z"/>
<circle cx="145.6" cy="255.5" r="0.5" fill="#000" stroke="none"/>
<path d="M146.8 260.6 L143.6 254.7 L150.1 254.7 Z"/>
<circle cx="146.8" cy="256.5" r="0.5" fill="#000" stroke="none"/>
<path d="M148.0 262.1 L144.8 256.1 L151.2 256.1 Z"/>
<circle cx="148.0" cy="258.0" r="0.5" fill="#000" stroke="none"/>
<path d="M149.2 263.6 L145.9 257.6 L152.4 257.6 Z"/>
<circle cx="149.2" cy="259.5" r="0.5" fill="#000" stroke="none"/>
<path d="M150.5 276.1 L147.2 270.1 L153.8 270.1 Z"/>
<circle cx="150.5" cy="272.0" r="0.5" fill="#000" stroke="none"/>
<path d="M158.5 304.7 L155.2 298.8 L161.8 298.8 Z"/>
<circle cx="158.5" cy="300.6" r="0.5" fill="#000" stroke="none"/>
<path d="M161.8 303.4 L158.6 297.4 L165.1 297.4 Z"/>
<circle cx="161.8" cy="299.3" r="0.5" fill="#000" stroke="none"/>
<path d="M173.6 313.8 L170.3 307.8 L176.8 307.8 Z"/>
<circle cx="173.6" cy="309.7" r="0.5" fill="#000" stroke="none"/>
<path d="M197.6 299.2 L194.3 293.2 L200.8 293.2 Z"/>
<circle cx="197.6" cy="295.1" r="0.5" fill="#000" stroke="none"/>
<path d="M221.3 283.9 L218.1 277.9 L224.6 277.9 Z"/>
<circle cx="221.3" cy="279.8" r="0.5" fill="#000" stroke="none"/>
<path d="M316.1 240.0 L312.9 234.1 L319.4 234.1 Z"/>
<circle cx="316.1" cy="235.9" r="0.5" fill="#000" stroke="none"/>
<path d="M351.7 231.3 L348.4 225.3 L354.9 225.3 Z"/>
<circle cx="351.7" cy="227.2" r="0.5" fill="#000" stroke="none"/>
<path d="M375.5 224.6 L372.2 218.7 L378.8 218.7 Z"/>
<circle cx="375.5" cy="220.5" r="0.5" fill="#000" stroke="none"/>
<path d="M411.1 214.5 L407.9 208.6 L414.4 208.6 Z"/>
<circle cx="411.1" cy="210.4" r="0.5" fill="#000" stroke="none"/>
<path d="M434.9 211.8 L431.6 205.8 L438.1 205.8 Z"/>
<circle cx="434.9" cy="207.7" r="0.5" fill="#000" stroke="none"/>
<path d="M470.5 210.0 L467.2 204.1 L473.8 204.1 Z"/>
<circle cx="470.5" cy="205.9" r="0.5" fill="#000" stroke="none"/>
<path d="M494.4 205.0 L491.1 199.1 L497.6 199.1 Z"/>
<circle cx="494.4" cy="200.9" r="0.5" fill="#000" stroke="none"/>
<path d="M553.3 201.3 L550.0 195.3 L556.5 195.3 Z"/>
<circle cx="553.3" cy="197.2" r="0.5" fill="#000" stroke="none"/>
<path d="M613.0 197.0 L609.8 191.1 L616.2 191.1 Z"/>
<circle cx="613.0" cy="192.9" r="0.5" fill="#000" stroke="none"/>
<path d="M257.2 262.4 L253.9 256.4 L260.4 256.4 Z"/>
<circle cx="257.2" cy="258.3" r="0.5" fill="#000" stroke="none"/>
<path d="M250.6 263.9 L247.3 257.9 L253.8 257.9 Z"/>
<circle cx="250.6" cy="259.8" r="0.5" fill="#000" stroke="none"/>
<path d="M244.6 269.6 L241.3 263.6 L247.8 263.6 Z"/>
<circle cx="244.6" cy="265.5" r="0.5" fill="#000" stroke="none"/>
<path d="M139.7 252.3 L136.4 256.0 L139.7 259.7 L142.9 256.0 Z"/>
<circle cx="139.7" cy="256.0" r="0.5" fill="#000" stroke="none"/>
<path d="M140.9 251.8 L137.7 255.5 L140.9 259.2 L144.2 255.5 Z"/>
<circle cx="140.9" cy="255.5" r="0.5" fill="#000" stroke="none"/>
<path d="M142.1 251.3 L138.8 255.0 L142.1 258.7 L145.3 255.0 Z"/>
<circle cx="142.1" cy="255.0" r="0.5" fill="#000" stroke="none"/>
<path d="M143.2 251.3 L139.9 255.0 L143.2 258.7 L146.4 255.0 Z"/>
<circle cx="143.2" cy="255.0" r="0.5" fill="#000" stroke="none"/>
<path d="M144.4 251.8 L141.2 255.5 L144.4 259.2 L147.7 255.5 Z"/>
<circle cx="144.4" cy="255.5" r="0.5" fill="#000" stroke="none"/>
<path d="M145.6 252.3 L142.3 256.0 L145.6 259.7 L148.8 256.0 Z"/>
<circle cx="145.6" cy="256.0" r="0.5" fill="#000" stroke="none"/>
<path d="M146.8 253.3 L143.6 257.0 L146.8 260.7 L150.1 257.0 Z"/>
<circle cx="146.8" cy="257.0" r="0.5" fill="#000" stroke="none"/>
<path d="M148.0 254.3 L144.8 258.0 L148.0 261.7 L151.2 258.0 Z"/>
<circle cx="148.0" cy="258.0" r="0.5" fill="#000" stroke="none"/>
<path d="M150.5 256.5 L147.2 260.2 L150.5 263.9 L153.8 260.2 Z"/>
<circle cx="150.5" cy="260.2" r="0.5" fill="#000" stroke="none"/>
<path d="M161.8 274.2 L158.6 277.9 L161.8 281.6 L165.1 277.9 Z"/>
<circle cx="161.8" cy="277.9" r="0.5" fill="#000" stroke="none"/>
<path d="M173.7 278.7 L170.4 282.4 L173.7 286.1 L176.9 282.4 Z"/>
<circle cx="173.7" cy="282.4" r="0.5" fill="#000" stroke="none"/>
<path d="M185.4 276.7 L182.2 280.4 L185.4 284.1 L188.7 280.4 Z"/>
<circle cx="185.4" cy="280.4" r="0.5" fill="#000" stroke="none"/>
<path d="M197.3 272.0 L194.1 275.7 L197.3 279.4 L200.6 275.7 Z"/>
<circle cx="197.3" cy="275.7" r="0.5" fill="#000" stroke="none"/>
<path d="M221.3 263.3 L218.1 267.0 L221.3 270.7 L224.6 267.0 Z"/>
<circle cx="221.3" cy="267.0" r="0.5" fill="#000" stroke="none"/>
<path d="M232.6 259.8 L229.3 263.5 L232.6 267.2 L235.8 263.5 Z"/>
<circle cx="232.6" cy="263.5" r="0.5" fill="#000" stroke="none"/>
<path d="M238.9 258.5 L235.7 262.2 L238.9 265.9 L242.2 262.2 Z"/>
<circle cx="238.9" cy="262.2" r="0.5" fill="#000" stroke="none"/>
<path d="M244.6 257.0 L241.3 260.7 L244.6 264.4 L247.8 260.7 Z"/>
<circle cx="244.6" cy="260.7" r="0.5" fill="#000" stroke="none"/>
<path d="M250.9 253.5 L247.7 257.2 L250.9 260.9 L254.2 257.2 Z"/>
<circle cx="250.9" cy="257.2" r="0.5" fill="#000" stroke="none"/>
<path d="M257.2 254.3 L253.9 258.0 L257.2 261.7 L260.4 258.0 Z"/>
<circle cx="257.2" cy="258.0" r="0.5" fill="#000" stroke="none"/>
<path d="M262.7 251.5 L259.4 255.2 L262.7 258.9 L265.9 255.2 Z"/>
<circle cx="262.7" cy="255.2" r="0.5" fill="#000" stroke="none"/>
<path d="M269.0 253.5 L265.8 257.2 L269.0 260.9 L272.2 257.2 Z"/>
<circle cx="269.0" cy="257.2" r="0.5" fill="#000" stroke="none"/>
<path d="M280.2 247.8 L276.9 251.5 L280.2 255.2 L283.4 251.5 Z"/>
<circle cx="280.2" cy="251.5" r="0.5" fill="#000" stroke="none"/>
<path d="M292.8 247.3 L289.6 251.0 L292.8 254.7 L296.1 251.0 Z"/>
<circle cx="292.8" cy="251.0" r="0.5" fill="#000" stroke="none"/>
<path d="M316.1 241.5 L312.9 245.2 L316.1 248.9 L319.4 245.2 Z"/>
<circle cx="316.1" cy="245.2" r="0.5" fill="#000" stroke="none"/>
<path d="M351.7 236.6 L348.4 240.3 L351.7 244.0 L354.9 240.3 Z"/>
<circle cx="351.7" cy="240.3" r="0.5" fill="#000" stroke="none"/>
<path d="M375.5 234.6 L372.2 238.3 L375.5 242.0 L378.8 238.3 Z"/>
<circle cx="375.5" cy="238.3" r="0.5" fill="#000" stroke="none"/>
<path d="M411.1 232.8 L407.9 236.5 L411.1 240.2 L414.4 236.5 Z"/>
<circle cx="411.1" cy="236.5" r="0.5" fill="#000" stroke="none"/>
<path d="M434.9 229.5 L431.6 233.2 L434.9 236.9 L438.1 233.2 Z"/>
<circle cx="434.9" cy="233.2" r="0.5" fill="#000" stroke="none"/>
<path d="M494.4 228.6 L491.1 232.3 L494.4 236.0 L497.6 232.3 Z"/>
<circle cx="494.4" cy="232.3" r="0.5" fill="#000" stroke="none"/>
<path d="M553.3 224.6 L550.0 228.3 L553.3 232.0 L556.5 228.3 Z"/>
<circle cx="553.3" cy="228.3" r="0.5" fill="#000" stroke="none"/>
<path d="M613.0 222.3 L609.8 226.0 L613.0 229.7 L616.2 226.0 Z"/>
<circle cx="613.0" cy="226.0" r="0.5" fill="#000" stroke="none"/>
</g>
<g stroke="#000" stroke-width="2.7" fill="none">
<rect x="138.3" y="50.6" width="474.7" height="362.2"/>
<path d="M197.6 412.8 v-6.9 M197.6 50.6 v6.9"/>
<path d="M257.0 412.8 v-6.9 M257.0 50.6 v6.9"/>
<path d="M316.3 412.8 v-6.9 M316.3 50.6 v6.9"/>
<path d="M375.6 412.8 v-6.9 M375.6 50.6 v6.9"/>
<path d="M435.0 412.8 v-6.9 M435.0 50.6 v6.9"/>
<path d="M494.3 412.8 v-6.9 M494.3 50.6 v6.9"/>
<path d="M553.7 412.8 v-6.9 M553.7 50.6 v6.9"/>
<path d="M138.3 361.1 h6.1 M613.0 361.1 h-6.1"/>
<path d="M138.3 309.3 h6.1 M613.0 309.3 h-6.1"/>
<path d="M138.3 257.6 h6.1 M613.0 257.6 h-6.1"/>
<path d="M138.3 205.8 h6.1 M613.0 205.8 h-6.1"/>
<path d="M138.3 154.1 h6.1 M613.0 154.1 h-6.1"/>
<path d="M138.3 102.3 h6.1 M613.0 102.3 h-6.1"/>
</g>
<text transform="translate(68.53,422.0) scale(0.895,1)">-0.03</text>
<text transform="translate(68.53,370.3) scale(0.895,1)">-0.02</text>
<text transform="translate(68.53,318.5) scale(0.895,1)">-0.0</text><path transform="translate(110.16,318.5) scale(0.02416,-0.02624)" d="M273 0V505H112V568C224 568 272 600 295 709H355V0Z" fill="#000"/>
<text transform="translate(110.16,266.8) scale(0.895,1)">0</text>
<text transform="translate(76.57,215.0) scale(0.895,1)">0.0</text><path transform="translate(110.16,215.0) scale(0.02416,-0.02624)" d="M273 0V505H112V568C224 568 272 600 295 709H355V0Z" fill="#000"/>
<text transform="translate(76.57,163.3) scale(0.895,1)">0.02</text>
<text transform="translate(76.57,111.5) scale(0.895,1)">0.03</text>
<text transform="translate(76.57,59.8) scale(0.895,1)">0.04</text>
<text transform="translate(134.38,447.5) scale(0.895,1)">0</text>
<text transform="translate(183.64,447.5) scale(0.895,1)">0.5</text>
<path transform="translate(253.06,447.5) scale(0.02416,-0.02624)" d="M273 0V505H112V568C224 568 272 600 295 709H355V0Z" fill="#000"/>
<path transform="translate(302.32,447.5) scale(0.02416,-0.02624)" d="M273 0V505H112V568C224 568 272 600 295 709H355V0Z" fill="#000"/><text transform="translate(315.75,447.5) scale(0.895,1)">.5</text>
<text transform="translate(371.73,447.5) scale(0.895,1)">2</text>
<text transform="translate(420.99,447.5) scale(0.895,1)">2.5</text>
<text transform="translate(490.41,447.5) scale(0.895,1)">3</text>
<text transform="translate(539.67,447.5) scale(0.895,1)">3.5</text>
<text transform="translate(609.08,447.5) scale(0.895,1)">4</text>
<text transform="translate(369.28,486.9) scale(0.895,1)">n</text>
<path d="M14.9 228.4 H27.6 A4.1 4 0 0 1 27.6 236.4 H27.0" stroke="#000" stroke-width="2.4" fill="none"/>
<text transform="translate(443.46,298.0) scale(0.895,1)">p=0.5</text>
<path d="M519.2 288.4 H584" fill="none" stroke="#ff0000" stroke-width="3.0"/>
<text transform="translate(443.46,324.2) scale(0.895,1)">p=0.6</text>
<path d="M519.2 314.6 H584" fill="none" stroke="#00ff00" stroke-width="3.0" stroke-dasharray="4 2"/>
<text transform="translate(443.46,350.3) scale(0.895,1)">p=0.7</text>
<path d="M519.2 340.7 H584" fill="none" stroke="#0000ff" stroke-width="3.0" stroke-dasharray="2 3"/>
<text transform="translate(443.46,376.3) scale(0.895,1)">p=0.8</text>
<path d="M519.2 366.7 H584" fill="none" stroke="#ff00ff" stroke-width="3.0" stroke-dasharray="1 1.5"/>
<text transform="translate(443.46,402.3) scale(0.895,1)">p=0.9</text>
<path d="M519.2 392.7 H584" fill="none" stroke="#00ffff" stroke-width="3.0" stroke-dasharray="5 2 1 2"/>
</svg></body></html>
